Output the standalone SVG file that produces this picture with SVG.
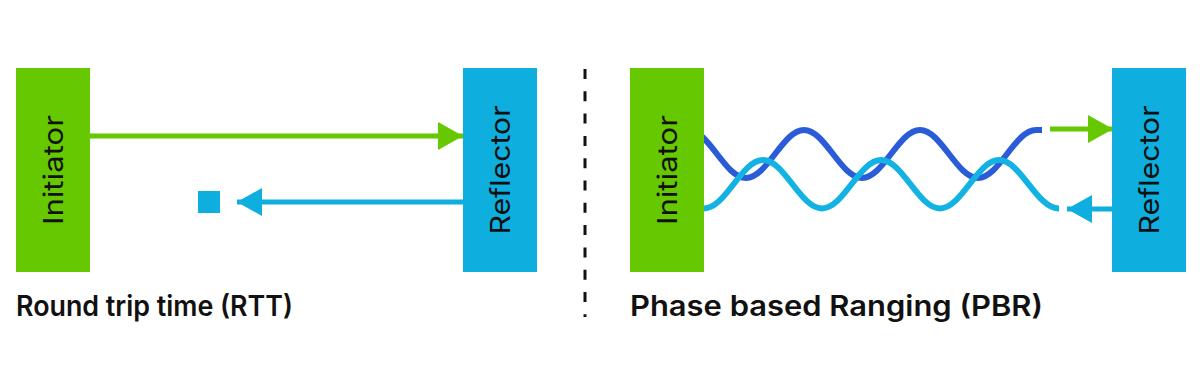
<svg xmlns="http://www.w3.org/2000/svg" width="1200" height="385" viewBox="0 0 1200 385">
  <defs>
    <style>
      .ini { fill: #66c800; }
      .ref { fill: #0eaedf; }
      .lbl { font-family: Inter, "Noto Sans", "Liberation Sans", sans-serif; font-size: 27px; font-weight: 400; fill: #111; }
      .title { font-family: Inter, "Noto Sans", "Liberation Sans", sans-serif; font-size: 28px; font-weight: 600; fill: #111; }
      .g { stroke: #66c800; stroke-width: 5; fill: none; }
      .b { stroke: #0eaedf; stroke-width: 5; fill: none; }
      .wave1 { stroke: #2b5cd8; stroke-width: 6; fill: none; }
      .wave2 { stroke: #12b2e3; stroke-width: 6; fill: none; }
    </style>
    <marker id="ahG" markerUnits="userSpaceOnUse" markerWidth="25" markerHeight="28" refX="25" refY="14" orient="auto" viewBox="0 0 25 28">
      <path d="M0,0 L25,14 L0,28 Z" fill="#66c800"/>
    </marker>
    <marker id="ahB" markerUnits="userSpaceOnUse" markerWidth="25" markerHeight="28" refX="25" refY="14" orient="auto" viewBox="0 0 25 28">
      <path d="M0,0 L25,14 L0,28 Z" fill="#0eaedf"/>
    </marker>
  </defs>
  <rect width="1200" height="385" fill="#ffffff"/>

  <g id="connectors">
    <line class="g" x1="90" y1="136" x2="463" y2="136" marker-end="url(#ahG)"/>
    <line class="b" x1="463" y1="202" x2="237" y2="202" marker-end="url(#ahB)"/>
    <path class="wave1" d="M688,130 C709.1,130 724.9,178 746,178 S782.9,130 804,130 S840.9,178 862,178 S898.9,130 920,130 S956.9,178 978,178 S1014.9,130 1036,130 L1042,130"/>
    <path class="wave2" d="M704,208.5 C725.5,208.5 741.5,160 763,160 S800.5,208.5 822,208.5 S859.5,160 881,160 S918.5,208.5 940,208.5 S977.5,160 999,160 S1036.5,208.5 1059,208.5"/>
    <line class="g" x1="1050" y1="129" x2="1113" y2="129" marker-end="url(#ahG)"/>
    <line class="b" x1="1112" y1="209" x2="1067" y2="209" marker-end="url(#ahB)"/>
  </g>

  <g id="rtt-initiator">
    <rect class="ini" x="16" y="68" width="74" height="204"/>
    <text class="lbl" transform="translate(63,170) rotate(-90)" text-anchor="middle" textLength="110" lengthAdjust="spacingAndGlyphs">Initiator</text>
  </g>
  <g id="rtt-reflector">
    <rect class="ref" x="463" y="68" width="74" height="204"/>
    <text class="lbl" transform="translate(510,170) rotate(-90)" text-anchor="middle" textLength="129" lengthAdjust="spacingAndGlyphs">Reflector</text>
  </g>
  <g id="rtt-marker">
    <rect class="ref" x="198" y="191" width="22" height="22"/>
  </g>
  <g id="rtt-title">
    <text class="title" x="16" y="316" textLength="277" lengthAdjust="spacingAndGlyphs">Round trip time (RTT)</text>
  </g>

  <g id="divider">
    <line x1="585" y1="69" x2="585" y2="317" stroke="#111" stroke-width="3" stroke-dasharray="10 12.3"/>
  </g>

  <g id="pbr-initiator">
    <rect class="ini" x="630" y="68" width="74" height="204"/>
    <text class="lbl" transform="translate(677,170) rotate(-90)" text-anchor="middle" textLength="110" lengthAdjust="spacingAndGlyphs">Initiator</text>
  </g>
  <g id="pbr-reflector">
    <rect class="ref" x="1112" y="68" width="74" height="204"/>
    <text class="lbl" transform="translate(1159,170) rotate(-90)" text-anchor="middle" textLength="129" lengthAdjust="spacingAndGlyphs">Reflector</text>
  </g>
  <g id="pbr-title">
    <text class="title" x="630" y="316" textLength="413" lengthAdjust="spacingAndGlyphs">Phase based Ranging (PBR)</text>
  </g>
</svg>
